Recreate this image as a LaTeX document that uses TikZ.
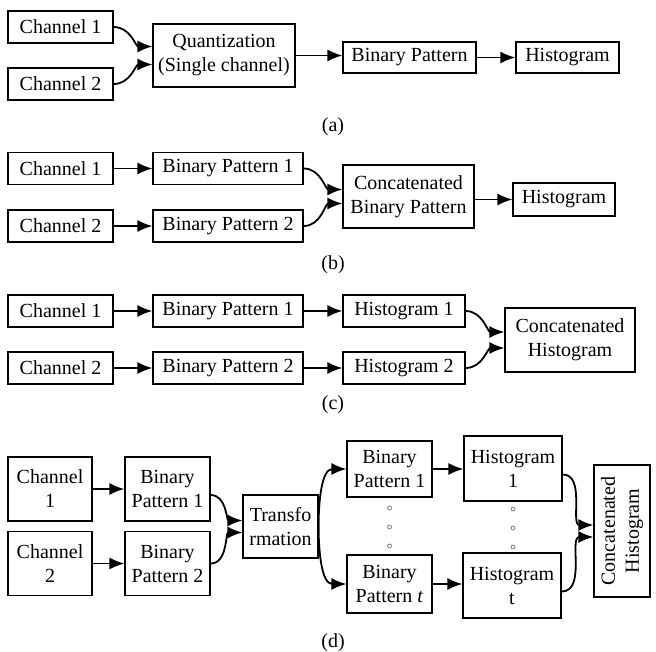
\documentclass[tikz,border=0pt]{standalone}
\usepackage{fontspec}
\setmainfont{Liberation Serif}
\usetikzlibrary{arrows.meta}
\newcommand{\testo}{\fontsize{20}{24}\selectfont}

\begin{document}
\begin{tikzpicture}[x=1pt, y=-1pt,
    blocco/.style = {draw, line width=1.2pt, inner sep=0pt, align=center, font=\testo},
    freccia/.style = {line width=1.8pt, -{Latex[length=15pt, width=12pt]}},
    etichetta/.style = {font=\testo}]
    % Parametri
    \pgfmathsetmacro{\wch}{105}
    \pgfmathsetmacro{\wbp}{150}
    \pgfmathsetmacro{\hbl}{32}
    \pgfmathsetmacro{\hdue}{64}
    \pgfmathsetmacro{\spost}{8}
    \useasboundingbox (0,0) rectangle (656,651);
    % Schema (a)
    \node[blocco, minimum width=\wch, minimum height=\hbl] (ca1) at (60.5,27) {Channel 1};
    \node[blocco, minimum width=\wch, minimum height=\hbl] (ca2) at (60.5,84) {Channel 2};
    \node[blocco, minimum width=142, minimum height=63] (qa) at (224,55.5) {Quantization\\(Single channel)};
    \node[blocco, minimum width=133, minimum height=31] (bpa) at (409.5,57.5) {Binary Pattern};
    \node[blocco, minimum width=103, minimum height=31] (ha) at (567.5,57.5) {Histogram};
    \draw[freccia] (ca1.east) to[out=0, in=180] ([yshift=9pt]qa.west);
    \draw[freccia] (ca2.east) to[out=0, in=180] ([yshift=-9pt]qa.west);
    \draw[freccia] (qa.east) -- (qa.east -| bpa.west);
    \draw[freccia] (bpa) -- (ha);
    \node[etichetta] (la) at (333,127) {(a)};
    % Schema (b)
    \node[blocco, minimum width=\wch, minimum height=\hbl] (cb1) at (60.5,168.5) {Channel 1};
    \node[blocco, minimum width=\wbp, minimum height=\hbl] (bpb1) at (228,168.5) {Binary Pattern 1};
    \node[blocco, minimum width=\wch, minimum height=\hbl] (cb2) at (60.5,226) {Channel 2};
    \node[blocco, minimum width=\wbp, minimum height=\hbl] (bpb2) at (228,226) {Binary Pattern 2};
    \node[blocco, minimum width=131, minimum height=63] (ccb) at (408.5,196.5) {Concatenated\\Binary Pattern};
    \node[blocco, minimum width=102, minimum height=33] (hb) at (564,199.5) {Histogram};
    \draw[freccia] (cb1) -- (bpb1);
    \draw[freccia] (cb2) -- (bpb2);
    \draw[freccia] (bpb1.east) to[out=0, in=180] ([yshift=7pt]ccb.west);
    \draw[freccia] (bpb2.east) to[out=0, in=180] ([yshift=-7pt]ccb.west);
    \draw[freccia] (ccb.east |- hb) -- (hb.west);
    \node[etichetta] (lb) at (333,265) {(b)};
    % Schema (c)
    \node[blocco, minimum width=\wch, minimum height=\hbl] (cc1) at (60.5,311) {Channel 1};
    \node[blocco, minimum width=\wbp, minimum height=\hbl] (bpc1) at (228,311) {Binary Pattern 1};
    \node[blocco, minimum width=122, minimum height=\hbl] (hc1) at (404,311) {Histogram 1};
    \node[blocco, minimum width=\wch, minimum height=\hbl] (cc2) at (60.5,368) {Channel 2};
    \node[blocco, minimum width=\wbp, minimum height=\hbl] (bpc2) at (228,368) {Binary Pattern 2};
    \node[blocco, minimum width=122, minimum height=\hbl] (hc2) at (404,368) {Histogram 2};
    \node[blocco, minimum width=130, minimum height=\hdue] (cch) at (570,340) {Concatenated\\Histogram};
    \draw[freccia] (cc1) -- (bpc1);
    \draw[freccia] (bpc1) -- (hc1);
    \draw[freccia] (cc2) -- (bpc2);
    \draw[freccia] (bpc2) -- (hc2);
    \draw[freccia] (hc1.east) to[out=0, in=180] ([yshift=\spost pt]cch.west);
    \draw[freccia] (hc2.east) to[out=0, in=180] ([yshift=-\spost pt]cch.west);
    \node[etichetta] (lc) at (333,405) {(c)};
    % Schema (d)
    \node[blocco, minimum width=84, minimum height=\hdue] (cd1) at (50,489) {Channel\\1};
    \node[blocco, minimum width=84, minimum height=\hdue] (cd2) at (50,563.5) {Channel\\2};
    \node[blocco, minimum width=85, minimum height=\hdue] (bpd1) at (167.5,489) {Binary\\Pattern 1};
    \node[blocco, minimum width=85, minimum height=\hdue] (bpd2) at (167.5,563.5) {Binary\\Pattern 2};
    \node[blocco, minimum width=75, minimum height=63] (td) at (280.5,526.5) {Transfo\\rmation};
    \node[blocco, minimum width=85, minimum height=56] (bpt1) at (389.5,469) {Binary\\Pattern 1};
    \node[blocco, minimum width=85, minimum height=58] (bptt) at (389.5,584) {Binary\\Pattern \textit{t}};
    \node[blocco, minimum width=98, minimum height=65] (hd1) at (513,468.5) {Histogram\\1};
    \node[blocco, minimum width=98, minimum height=65] (hdt) at (512,585.5) {Histogram\\t};
    \node[blocco, rotate=90, minimum width=132, minimum height=56] (chd) at (622,531) {Concatenated\\Histogram};
    % Puntini
    \foreach \yy in {508,527,546}{
        \draw[gray, line width=0.8pt] (389.5,\yy) circle (2pt);
        \draw[gray, line width=0.8pt] (513,\yy+1) circle (2pt);
    }
    \draw[freccia] (cd1) -- (bpd1);
    \draw[freccia] (cd2) -- (bpd2);
    \draw[freccia] ([yshift=-6pt]bpd1.east) to[out=0, in=180] ([yshift=6pt]td.west);
    \draw[freccia] (bpd2.east) to[out=0, in=180] ([yshift=-6pt]td.west);
    \draw[freccia] (td.east) to[out=90, in=180] (bpt1.west);
    \draw[freccia] (td.east) to[out=-90, in=180] (bptt.west);
    \draw[freccia] (bpt1.east) -- (bpt1.east -| hd1.west);
    \draw[freccia] (bptt.east) -- (bptt.east -| hdt.west);
    \draw[freccia] ([yshift=-6pt]hd1.east) to[out=0, in=180] ([yshift=6pt]chd.north);
    \draw[freccia] ([yshift=-6pt]hdt.east) to[out=0, in=180] ([yshift=-6pt]chd.north);
    \node[etichetta] (ld) at (333,643) {(d)};
\end{tikzpicture}
\end{document}
